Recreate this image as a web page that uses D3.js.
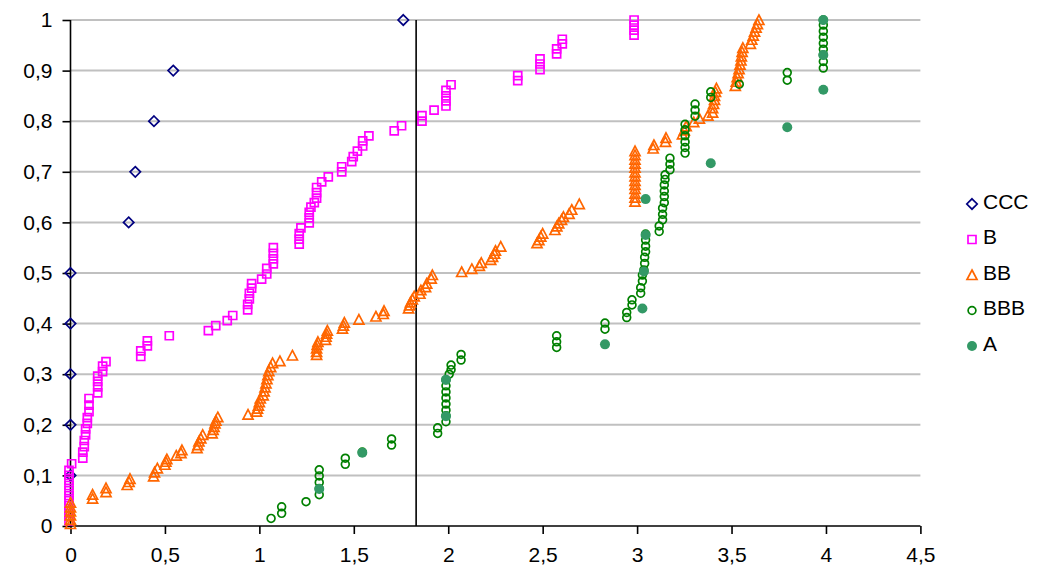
<!DOCTYPE html>
<html>
<head>
<meta charset="utf-8">
<script src="https://cdn.jsdelivr.net/npm/d3@7"></script>
<style>
  body { margin: 0; background: #fff; }
  svg { display: block; }
  text { font-family: "Liberation Sans", Arial, sans-serif; }
</style>
</head>
<body>
<svg id="chart" width="1042" height="570"></svg>
<script>
// Axis ticks
const xTicks = [0, 0.5, 1, 1.5, 2, 2.5, 3, 3.5, 4, 4.5];
const yTicks = [0, 0.1, 0.2, 0.3, 0.4, 0.5, 0.6, 0.7, 0.8, 0.9, 1];

// Vertical reference line
const cutoffLine = [[1.83, 0], [1.83, 1]];

// Cumulative share by rating class: [x, y]
const cccPoints = [
  [0, 0.1], [0, 0.2], [0, 0.3], [0, 0.4], [0, 0.5],
  [0.308, 0.6], [0.343, 0.7], [0.442, 0.8], [0.544, 0.9], [1.762, 1.0]
];

const bPoints = [
  [-0.008, 0.01], [-0.008, 0.02], [-0.008, 0.03], [-0.008, 0.04], [-0.008, 0.05], [-0.008, 0.06],
  [-0.008, 0.07], [-0.008, 0.08], [-0.008, 0.09], [-0.008, 0.10], [-0.008, 0.11],
  [0.006, 0.123],
  [0.065, 0.134], [0.065, 0.146], [0.073, 0.157], [0.073, 0.169], [0.08, 0.18], [0.08, 0.192],
  [0.089, 0.203], [0.089, 0.214], [0.098, 0.226], [0.098, 0.239], [0.098, 0.252],
  [0.144, 0.263], [0.144, 0.275], [0.144, 0.286], [0.144, 0.296],
  [0.17, 0.305], [0.17, 0.316], [0.188, 0.325],
  [0.372, 0.335], [0.372, 0.346], [0.407, 0.356], [0.407, 0.366],
  [0.523, 0.376], [0.73, 0.386], [0.769, 0.396], [0.83, 0.406], [0.859, 0.416],
  [0.938, 0.427], [0.938, 0.438], [0.947, 0.449], [0.947, 0.46], [0.959, 0.47], [0.959, 0.479],
  [1.012, 0.488], [1.039, 0.498], [1.039, 0.509],
  [1.074, 0.518], [1.074, 0.528], [1.074, 0.539], [1.074, 0.55],
  [1.211, 0.557], [1.211, 0.567], [1.211, 0.578], [1.22, 0.589],
  [1.264, 0.599], [1.264, 0.609], [1.264, 0.62], [1.273, 0.63], [1.291, 0.639],
  [1.303, 0.648], [1.303, 0.659], [1.303, 0.669],
  [1.33, 0.68], [1.365, 0.69], [1.436, 0.7], [1.436, 0.71],
  [1.489, 0.72], [1.497, 0.73], [1.519, 0.741], [1.547, 0.751], [1.547, 0.761], [1.58, 0.771],
  [1.714, 0.781], [1.753, 0.791], [1.861, 0.8], [1.861, 0.811], [1.925, 0.822],
  [1.988, 0.83], [1.988, 0.84], [1.988, 0.85], [1.988, 0.861], [2.015, 0.872],
  [2.368, 0.88], [2.368, 0.89], [2.486, 0.902], [2.486, 0.913], [2.486, 0.923],
  [2.574, 0.933], [2.574, 0.943], [2.604, 0.953], [2.604, 0.962],
  [2.984, 0.97], [2.984, 0.98], [2.984, 0.99], [2.984, 1.0]
];

const bbPoints = [
  [0, 0.004], [0, 0.012], [0, 0.021], [0, 0.029], [0, 0.037], [0, 0.046],
  [0.117, 0.054], [0.117, 0.062], [0.188, 0.067], [0.188, 0.075],
  [0.30, 0.081], [0.31, 0.087], [0.315, 0.093],
  [0.44, 0.098], [0.445, 0.106], [0.46, 0.114],
  [0.5, 0.121], [0.505, 0.127], [0.51, 0.132], [0.56, 0.139], [0.585, 0.144], [0.59, 0.15],
  [0.67, 0.154], [0.675, 0.16], [0.68, 0.167], [0.69, 0.173], [0.7, 0.18],
  [0.75, 0.183], [0.755, 0.19], [0.76, 0.196], [0.765, 0.203], [0.77, 0.208], [0.78, 0.215],
  [0.94, 0.22], [0.985, 0.226], [0.99, 0.232], [0.995, 0.238], [1.0, 0.245], [1.005, 0.252],
  [1.02, 0.258], [1.025, 0.266], [1.03, 0.274], [1.035, 0.282], [1.04, 0.29], [1.045, 0.298],
  [1.05, 0.306], [1.06, 0.314], [1.07, 0.322],
  [1.109, 0.326], [1.175, 0.337],
  [1.303, 0.338], [1.303, 0.344], [1.303, 0.351], [1.306, 0.358], [1.31, 0.364],
  [1.35, 0.368], [1.353, 0.374], [1.356, 0.38], [1.36, 0.386],
  [1.44, 0.39], [1.445, 0.396], [1.45, 0.402], [1.527, 0.408], [1.617, 0.414],
  [1.656, 0.419], [1.66, 0.425],
  [1.79, 0.43], [1.795, 0.436], [1.80, 0.442], [1.81, 0.448], [1.82, 0.454],
  [1.85, 0.459], [1.855, 0.466], [1.88, 0.472], [1.886, 0.479],
  [1.91, 0.489], [1.916, 0.496], [2.071, 0.502],
  [2.125, 0.508], [2.165, 0.514], [2.175, 0.52],
  [2.225, 0.526], [2.235, 0.532], [2.245, 0.538], [2.25, 0.544], [2.278, 0.552],
  [2.47, 0.559], [2.48, 0.565], [2.49, 0.572], [2.5, 0.578],
  [2.565, 0.585], [2.575, 0.592], [2.585, 0.598], [2.6, 0.605], [2.61, 0.611],
  [2.64, 0.617], [2.654, 0.625], [2.694, 0.636],
  [2.989, 0.641], [2.989, 0.649], [2.989, 0.657], [2.989, 0.666], [2.989, 0.674], [2.989, 0.682],
  [2.989, 0.691], [2.989, 0.699], [2.989, 0.708], [2.989, 0.716], [2.989, 0.724], [2.989, 0.733], [2.989, 0.741],
  [3.085, 0.746], [3.089, 0.753], [3.15, 0.759], [3.153, 0.767],
  [3.24, 0.774], [3.25, 0.782], [3.26, 0.79], [3.30, 0.798], [3.33, 0.805], [3.375, 0.811],
  [3.40, 0.817], [3.40, 0.826], [3.405, 0.834], [3.41, 0.842], [3.41, 0.85], [3.415, 0.858], [3.42, 0.865],
  [3.52, 0.87], [3.525, 0.878], [3.53, 0.887], [3.535, 0.895], [3.54, 0.903],
  [3.545, 0.912], [3.55, 0.92], [3.552, 0.928], [3.556, 0.937], [3.56, 0.945],
  [3.60, 0.953], [3.607, 0.961], [3.615, 0.969], [3.622, 0.977], [3.63, 0.985], [3.637, 0.992], [3.645, 1.0]
];

const bbbPoints = [
  [1.062, 0.015], [1.118, 0.025], [1.118, 0.038], [1.247, 0.048],
  [1.317, 0.062], [1.317, 0.074], [1.317, 0.086], [1.317, 0.099], [1.317, 0.111],
  [1.455, 0.122], [1.455, 0.134], [1.545, 0.146], [1.70, 0.16], [1.70, 0.172],
  [1.944, 0.183], [1.944, 0.194],
  [1.988, 0.206], [1.988, 0.218], [1.988, 0.229], [1.988, 0.241], [1.988, 0.253], [1.988, 0.265],
  [1.988, 0.277], [1.988, 0.289], [2.005, 0.3], [2.015, 0.309], [2.015, 0.318],
  [2.068, 0.328], [2.068, 0.339],
  [2.574, 0.353], [2.574, 0.364], [2.574, 0.376], [2.83, 0.389], [2.83, 0.401],
  [2.945, 0.412], [2.945, 0.422], [2.973, 0.437], [2.973, 0.447],
  [3.019, 0.46], [3.019, 0.471], [3.028, 0.484], [3.028, 0.496],
  [3.036, 0.506], [3.04, 0.519], [3.04, 0.531], [3.045, 0.542], [3.045, 0.553], [3.045, 0.565], [3.045, 0.577],
  [3.117, 0.582], [3.117, 0.593], [3.135, 0.605], [3.135, 0.616], [3.135, 0.628],
  [3.144, 0.639], [3.144, 0.651], [3.144, 0.662], [3.144, 0.674], [3.148, 0.685], [3.148, 0.694],
  [3.174, 0.704], [3.174, 0.715], [3.174, 0.727],
  [3.254, 0.737], [3.254, 0.748], [3.254, 0.759], [3.254, 0.771], [3.254, 0.783], [3.254, 0.794],
  [3.307, 0.81], [3.307, 0.822], [3.307, 0.834], [3.39, 0.847], [3.39, 0.858],
  [3.541, 0.873], [3.795, 0.881], [3.795, 0.896],
  [3.986, 0.905], [3.986, 0.918], [3.986, 0.931], [3.986, 0.942], [3.986, 0.954],
  [3.986, 0.966], [3.986, 0.978], [3.986, 0.99], [3.986, 1.0]
];

const aPoints = [
  [1.317, 0.073], [1.545, 0.145], [1.988, 0.217], [1.988, 0.289], [2.83, 0.359],
  [3.028, 0.43], [3.036, 0.503], [3.045, 0.575], [3.045, 0.646], [3.39, 0.717],
  [3.795, 0.788], [3.986, 0.862], [3.986, 0.931], [3.986, 1.0]
];

const seriesNames = ["CCC", "B", "BB", "BBB", "A"];
const seriesColors = ["#000080", "#ff00ff", "#ff6600", "#008000", "#339966"];
const seriesShapes = ["diamond", "square", "triangle", "circle", "dot"];
const seriesData = [cccPoints, bPoints, bbPoints, bbbPoints, aPoints];

const svg = d3.select("#chart");
const margin = { left: 70.5, right: 121.6, top: 20, bottom: 44 };
const W = 1042, H = 570;

const x = d3.scaleLinear().domain([0, 4.5]).range([margin.left, W - margin.right]);
const y = d3.scaleLinear().domain([0, 1]).range([H - margin.bottom, margin.top]);

// Decimal comma labels
const fmt = d => String(d).replace(".", ",");

svg.append("rect").attr("width", W).attr("height", H).attr("fill", "#fff");

// Horizontal gridlines
svg.append("g")
  .selectAll("line")
  .data(yTicks.filter(d => d > 0))
  .join("line")
  .attr("x1", x(0)).attr("x2", x(4.5))
  .attr("y1", d => y(d)).attr("y2", d => y(d))
  .attr("stroke", "#c0c0c0").attr("stroke-width", 2);

// Axes
const xAxis = svg.append("g")
  .attr("transform", `translate(0,${y(0)})`)
  .call(d3.axisBottom(x).tickValues(xTicks).tickFormat(fmt).tickSize(8).tickPadding(13));
const yAxis = svg.append("g")
  .attr("transform", `translate(${x(0)},0)`)
  .call(d3.axisLeft(y).tickValues(yTicks).tickFormat(fmt).tickSize(8).tickPadding(10));

[xAxis, yAxis].forEach(g => {
  g.select(".domain").attr("stroke", "#000").attr("stroke-width", 1.6);
  g.selectAll(".tick line").attr("stroke", "#000").attr("stroke-width", 1.6);
  g.selectAll(".tick text")
    .attr("fill", "#000")
    .style("font-size", "21px")
    .style("font-family", "'Liberation Sans', Arial, sans-serif");
});
xAxis.select(".domain").attr("d", `M${x(0)},0H${x(4.5)}`);
yAxis.select(".domain").attr("d", `M0,${y(0)}V${y(1)}`);

// Vertical reference line
svg.append("path")
  .datum(cutoffLine)
  .attr("d", d3.line().x(d => x(d[0])).y(d => y(d[1])))
  .attr("stroke", "#000").attr("stroke-width", 1.6).attr("fill", "none");

// Marker shapes
function markerPath(shape) {
  switch (shape) {
    case "diamond": return "M0,-5.2L5.2,0L0,5.2L-5.2,0Z";
    case "square": return "M-4,-4H4V4H-4Z";
    case "triangle": return "M0,-5L5,4.5H-5Z";
    case "circle": return d3.arc()({ innerRadius: 0, outerRadius: 3.9, startAngle: 0, endAngle: 2 * Math.PI });
    default: return d3.arc()({ innerRadius: 0, outerRadius: 5, startAngle: 0, endAngle: 2 * Math.PI });
  }
}

function drawMarker(sel, shape, color) {
  sel.attr("d", markerPath(shape))
    .attr("fill", shape === "dot" ? color : "none")
    .attr("stroke", shape === "dot" ? "none" : color)
    .attr("stroke-width", 1.7);
}

seriesData.forEach((pts, i) => {
  svg.append("g")
    .selectAll("path")
    .data(pts)
    .join("path")
    .attr("transform", d => `translate(${x(d[0])},${y(d[1])})`)
    .call(drawMarker, seriesShapes[i], seriesColors[i]);
});

// Legend
const legend = svg.append("g").attr("transform", "translate(972,204)");
seriesNames.forEach((name, i) => {
  const row = legend.append("g").attr("transform", `translate(0,${i * 35.5})`);
  row.append("path").call(drawMarker, seriesShapes[i], seriesColors[i]);
  row.append("text")
    .attr("x", 11).attr("y", 4.5)
    .style("font-size", "21px")
    .attr("fill", "#000")
    .text(name);
});
</script>
</body>
</html>
